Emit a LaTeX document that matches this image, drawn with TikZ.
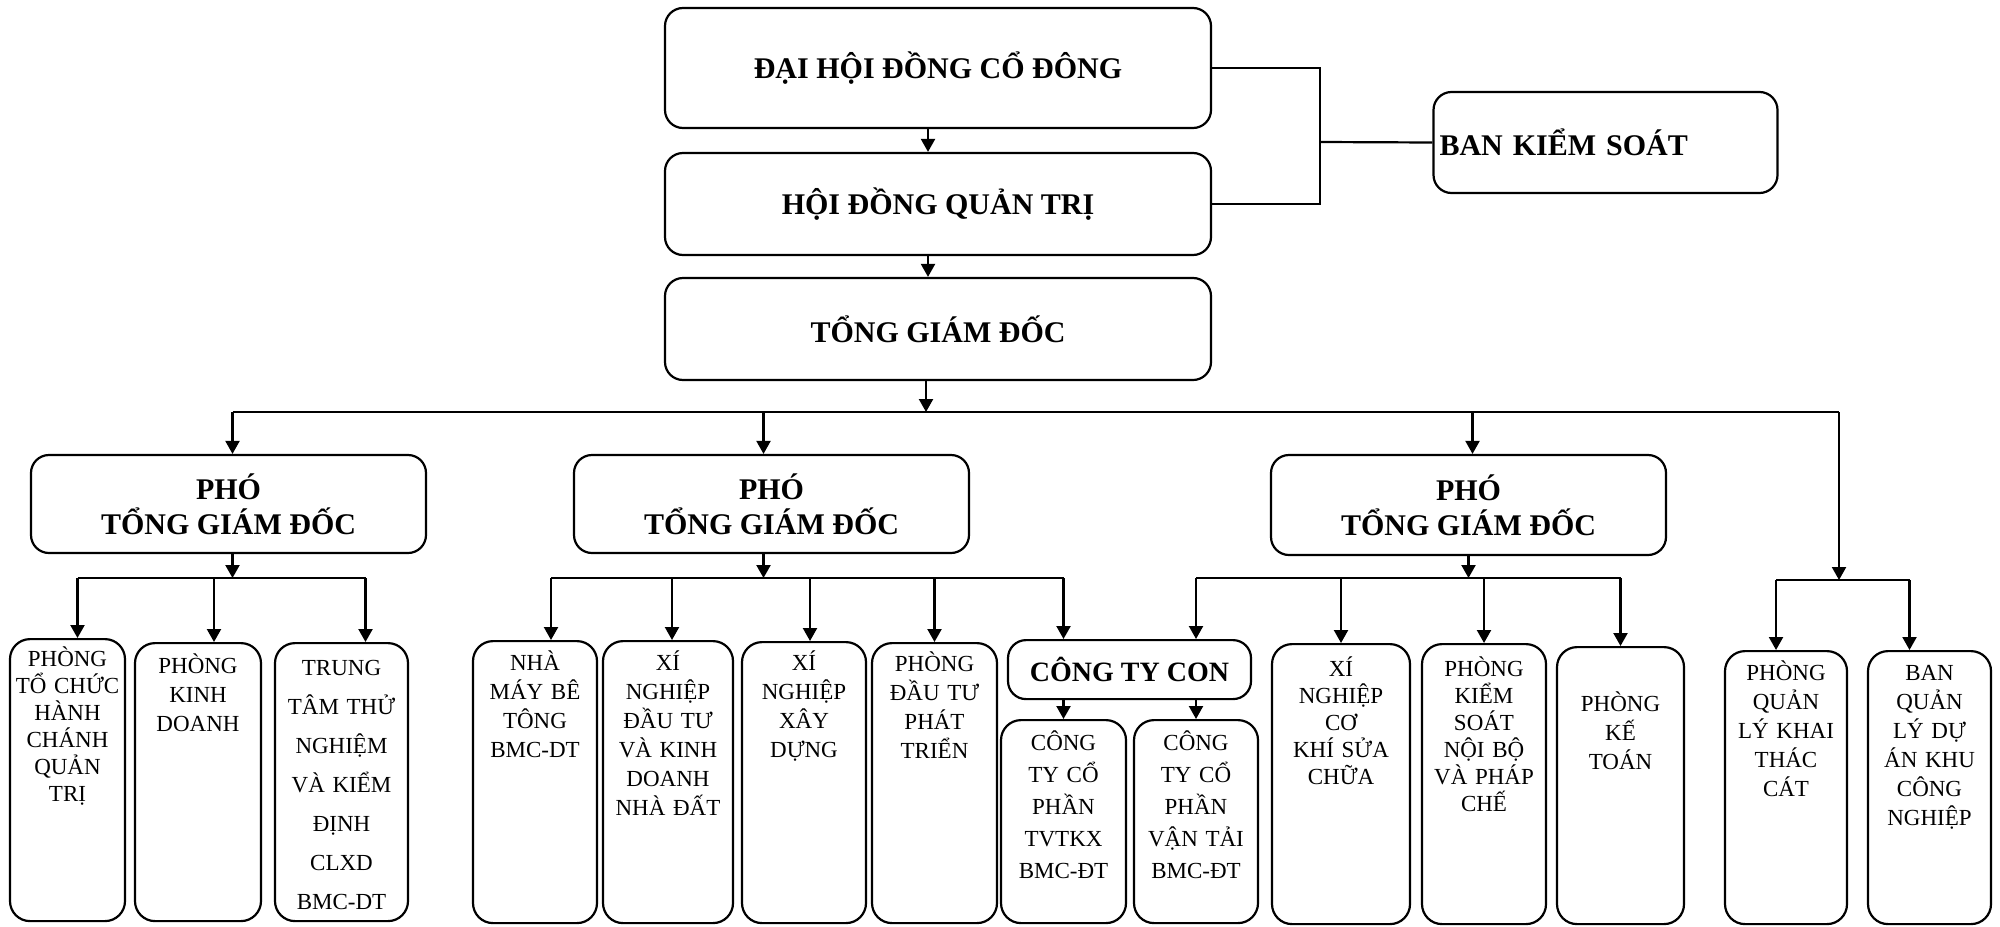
\documentclass[tikz,border=0pt]{standalone}
\usepackage{fontspec}
\setmainfont{Liberation Serif}
\usetikzlibrary{arrows.meta, positioning, calc}
\tikzset{>={Triangle[length=6.5pt,width=7pt]}}
\tikzset{
  hbox/.style={draw, line width=1.1pt, rounded corners=9pt, align=center, font=\fontsize{15}{17.5}\selectfont\bfseries},
  cbox/.style={draw, line width=1.1pt, rounded corners=10pt, anchor=north, align=center, inner xsep=1pt, inner ysep=0pt, font=\fontsize{11.5}{13.5}\selectfont},
  link/.style={line width=1.1pt}
}

\begin{document}
\begin{tikzpicture}[x=0.5pt, y=-0.5pt]
	\useasboundingbox (0,0) rectangle (2000,926);
	% top of the chart
	\node[hbox, minimum width=273pt, minimum height=60pt] (dh) at (938,68) {ĐẠI HỘI ĐỒNG CỔ ĐÔNG};
	\node[hbox, minimum width=273pt, minimum height=51pt] (hd) at (938,204) {HỘI ĐỒNG QUẢN TRỊ};
	\node[hbox, minimum width=273pt, minimum height=51pt] (tgd) at (938,329) {TỔNG GIÁM ĐỐC};
	\node[hbox, align=left, text width=166pt, inner xsep=3pt, minimum height=50.5pt] (bks) at (1605.5,142.5) {BAN KIỂM SOÁT};
	\coordinate (kx) at (1320,142);
	\draw[link] (dh.east) -| (kx) |- (hd.east);
	\draw[link] (kx) -- (bks.west);
	\draw[link,->] ([xshift=-5pt]dh.south) -- ([xshift=-5pt]hd.north);
	\draw[link,->] ([xshift=-5pt]hd.south) -- ([xshift=-5pt]tgd.north);

	% deputies
	\node[hbox, minimum width=197.5pt, minimum height=49pt] (pho1) at (228.5,504) {PHÓ\\TỔNG GIÁM ĐỐC};
	\node[hbox, minimum width=197.5pt, minimum height=49pt] (pho2) at (771.5,504) {PHÓ\\TỔNG GIÁM ĐỐC};
	\node[hbox, minimum width=197.5pt, minimum height=50pt] (pho3) at (1468.5,505) {PHÓ\\TỔNG GIÁM ĐỐC};

	% departments
	\node[cbox, text width=55.5pt, text height=13.8pt, text depth=127.2pt] (pa) at (67.5,638) {PHÒNG\\TỔ CHỨC\\HÀNH\\CHÁNH\\QUẢN\\TRỊ};
	\node[cbox, text width=61pt, text height=15.3pt, text depth=123.7pt, font=\fontsize{11.5}{14.5}\selectfont] (pb) at (198,642) {PHÒNG\\KINH\\DOANH};
	\node[cbox, text width=64.5pt, text height=16.3pt, text depth=122.7pt, font=\fontsize{11.5}{19.5}\selectfont] (pc) at (341.5,642) {TRUNG\\TÂM THỬ\\NGHIỆM\\VÀ KIỂM\\ĐỊNH\\CLXD\\BMC-DT};
	\node[cbox, text width=60pt, text height=14.8pt, text depth=126.2pt, font=\fontsize{11.5}{14.5}\selectfont] (na) at (535,640) {NHÀ\\MÁY BÊ\\TÔNG\\BMC-DT};
	\node[cbox, text width=63pt, text height=14.8pt, text depth=126.2pt, font=\fontsize{11.5}{14.5}\selectfont] (xd) at (668,640) {XÍ\\NGHIỆP\\ĐẦU TƯ\\VÀ KINH\\DOANH\\NHÀ ĐẤT};
	\node[cbox, text width=60pt, text height=14.3pt, text depth=126.2pt, font=\fontsize{11.5}{14.5}\selectfont] (xx) at (804,641) {XÍ\\NGHIỆP\\XÂY\\DỰNG};
	\node[cbox, text width=60.5pt, text height=14.3pt, text depth=125.7pt, font=\fontsize{11.5}{14.5}\selectfont] (pp) at (934.5,642) {PHÒNG\\ĐẦU TƯ\\PHÁT\\TRIỂN};
	\node[hbox, anchor=north, minimum width=121.5pt, minimum height=29.5pt, font=\fontsize{14}{16}\selectfont\bfseries] (con) at (1129.5,639) {CÔNG TY CON};
	\node[cbox, text width=60.5pt, text height=15.3pt, text depth=86.2pt, font=\fontsize{11.5}{16}\selectfont] (tv) at (1063.5,719) {CÔNG\\TY CỔ\\PHẦN\\TVTKX\\BMC-ĐT};
	\node[cbox, text width=60pt, text height=15.3pt, text depth=86.2pt, font=\fontsize{11.5}{16}\selectfont] (vt) at (1196,719) {CÔNG\\TY CỔ\\PHẦN\\VẬN TẢI\\BMC-ĐT};
	\node[cbox, text width=67pt, text height=16.3pt, text depth=123.7pt] (ck) at (1341,643) {XÍ\\NGHIỆP\\CƠ\\KHÍ SỬA\\CHỮA};
	\node[cbox, text width=60pt, text height=16.3pt, text depth=123.7pt] (ks) at (1484,643) {PHÒNG\\KIỂM\\SOÁT\\NỘI BỘ\\VÀ PHÁP\\CHẾ};
	\node[cbox, text width=61.5pt, text height=32.3pt, text depth=106.2pt, font=\fontsize{11.5}{14.5}\selectfont] (kt) at (1620.5,646) {PHÒNG\\KẾ\\TOÁN};
	\node[cbox, text width=59pt, text height=14.8pt, text depth=121.7pt, font=\fontsize{11.5}{14.5}\selectfont] (qk) at (1786,650) {PHÒNG\\QUẢN\\LÝ KHAI\\THÁC\\CÁT};
	\node[cbox, text width=59.5pt, text height=14.8pt, text depth=121.7pt, font=\fontsize{11.5}{14.5}\selectfont] (bq) at (1929.5,650) {BAN\\QUẢN\\LÝ DỰ\\ÁN KHU\\CÔNG\\NGHIỆP};

	% main bus
	\coordinate (bus) at (0,412);
	\coordinate (rb) at (1839,580);
	\draw[link,->] ([xshift=-6pt]tgd.south) -- ([xshift=-6pt]tgd.south |- bus);
	\draw[link] ([xshift=2pt]pho1.north |- bus) -- (rb |- bus);
	\draw[link,->] (rb |- bus) -- (rb);
	\foreach \n/\d in {pho1/2pt,pho2/-4pt,pho3/2pt}
		\draw[link,->] ([xshift=\d]\n.north |- bus) -- ([xshift=\d]\n.north);

	% lower buses
	\coordinate (sub) at (0,578);
	\draw[link,->] ([xshift=2pt]pho1.south) -- ([xshift=2pt]pho1.south |- sub);
	\draw[link] ([xshift=5pt]pa.north |- sub) -- ([xshift=12pt]pc.north |- sub);
	\foreach \n/\d in {pa/5pt,pb/8pt,pc/12pt}
		\draw[link,->] ([xshift=\d]\n.north |- sub) -- ([xshift=\d]\n.north);

	\draw[link,->] ([xshift=-4pt]pho2.south) -- ([xshift=-4pt]pho2.south |- sub);
	\draw[link] ([xshift=8pt]na.north |- sub) -- (tv.north |- sub);
	\foreach \n/\d in {na/8pt,xd/2pt,xx/3pt,pp/0pt}
		\draw[link,->] ([xshift=\d]\n.north |- sub) -- ([xshift=\d]\n.north);
	\draw[link,->] (tv.north |- sub) -- (tv.north |- con.north);

	\draw[link,->] (pho3.south) -- (pho3.south |- sub);
	\draw[link] (vt.north |- sub) -- (kt.north |- sub);
	\draw[link,->] (vt.north |- sub) -- (vt.north |- con.north);
	\foreach \n in {ck,ks,kt}
		\draw[link,->] (\n.north |- sub) -- (\n.north);

	\draw[link,->] (tv.north |- con.south) -- (tv.north);
	\draw[link,->] (vt.north |- con.south) -- (vt.north);

	\draw[link] ([xshift=-5pt]qk.north |- rb) -- ([xshift=-10pt]bq.north |- rb);
	\foreach \n/\d in {qk/-5pt,bq/-10pt}
		\draw[link,->] ([xshift=\d]\n.north |- rb) -- ([xshift=\d]\n.north);
\end{tikzpicture}
\end{document}
